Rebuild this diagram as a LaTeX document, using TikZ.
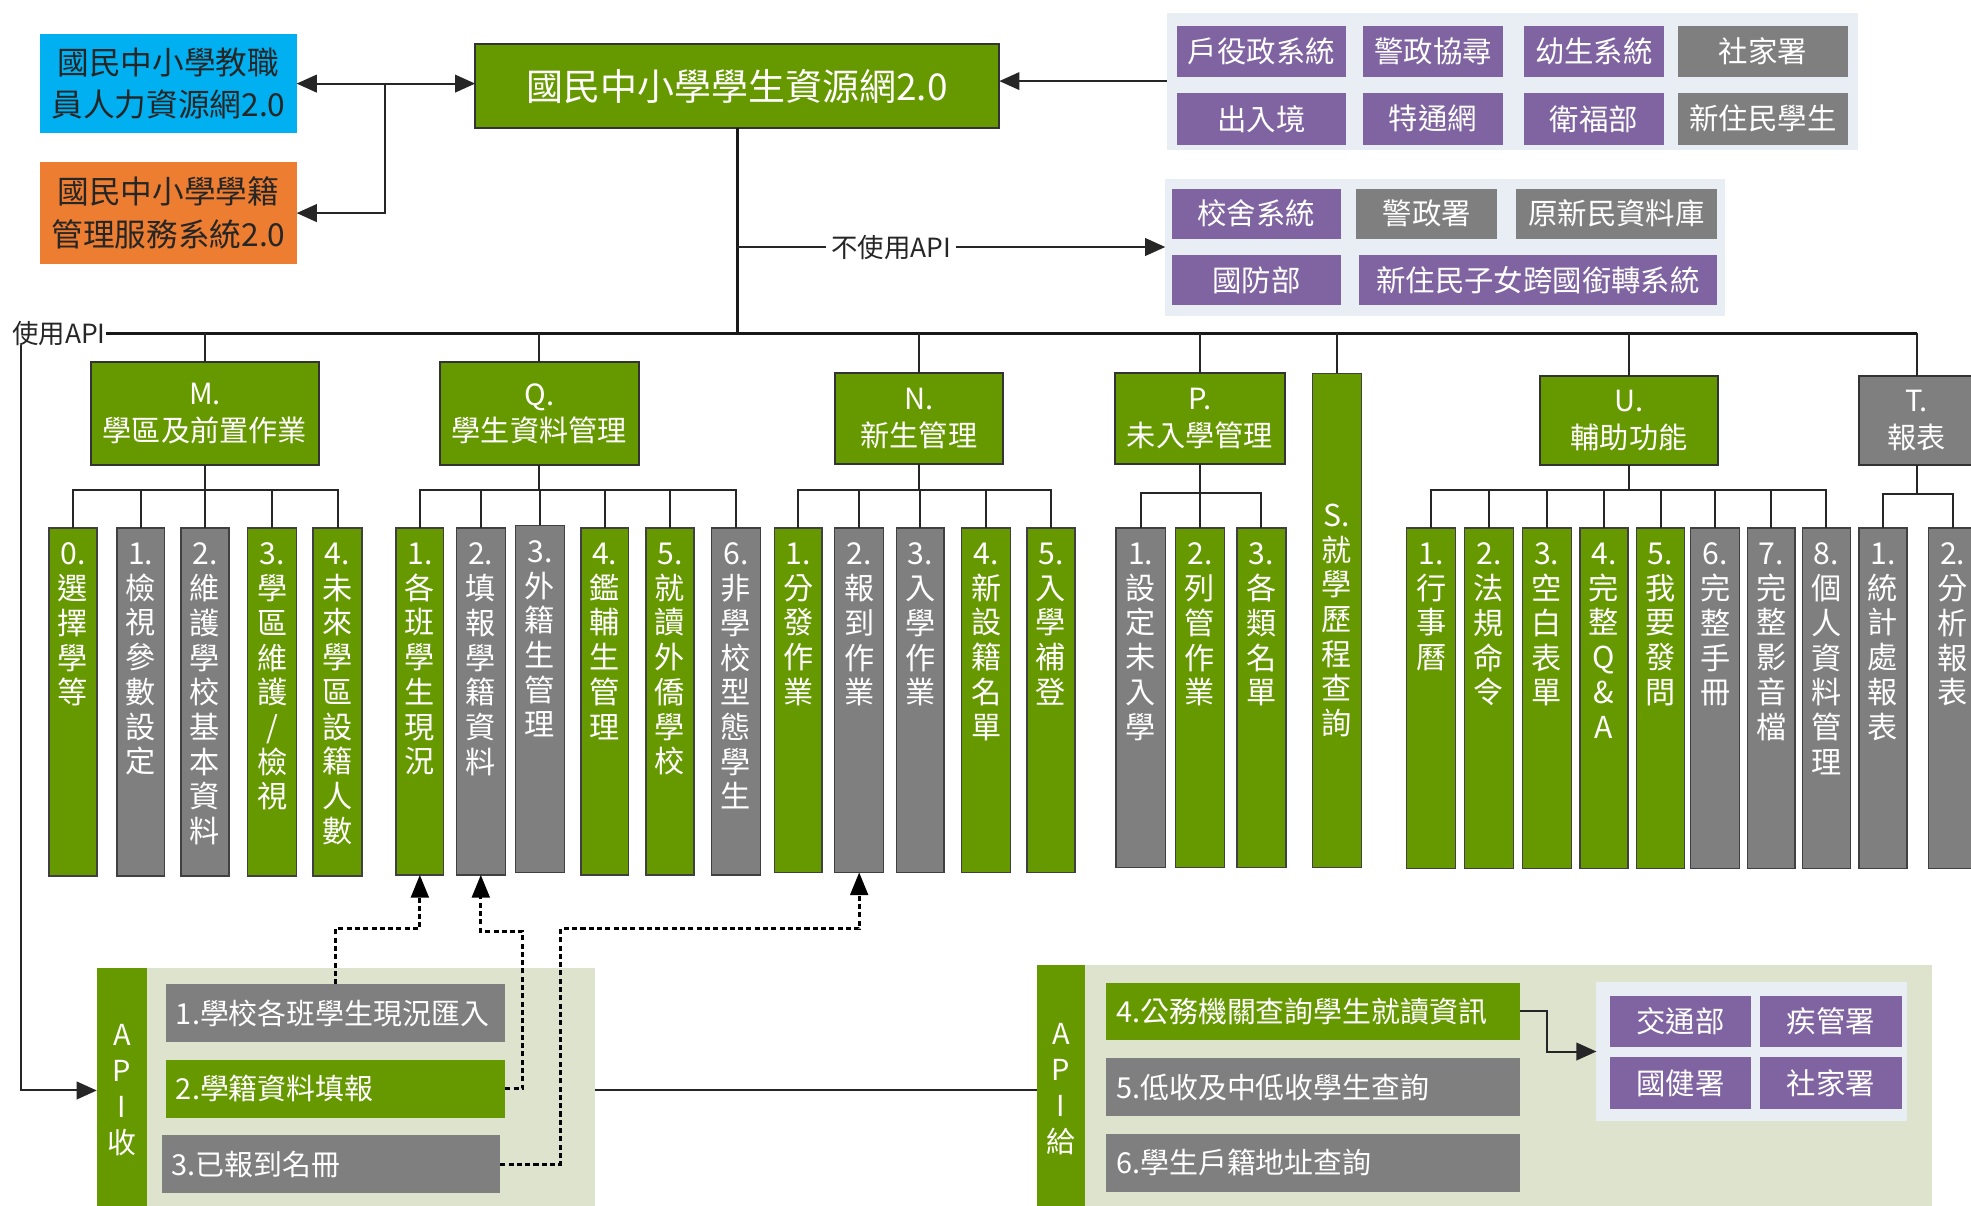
\documentclass[tikz,border=0pt]{standalone}
\usepackage{fontspec}
\setmainfont{Noto Sans CJK TC}
\usetikzlibrary{arrows.meta, calc}

\definecolor{leaf}{HTML}{669900}
\definecolor{ash}{HTML}{7F7F7F}
\definecolor{grape}{HTML}{8064A2}
\definecolor{sky}{HTML}{00B0F0}
\definecolor{amber}{HTML}{ED7D31}
\definecolor{mist}{HTML}{E9EDF4}
\definecolor{sage}{HTML}{DDE3CC}

% stacked characters, starting at the top of a bar
\newcommand{\vcol}[2]{\parbox[c][#1][t]{18pt}{\centering\fontsize{12pt}{13.8pt}\selectfont #2}}

\begin{document}
\begin{tikzpicture}[
  x=0.5pt, y=-0.5pt,
  every node/.style={inner sep=0pt, outer sep=0pt, text=white},
  zone/.style n args={4}{at={({(#1+#3)/2},{(#2+#4)/2})}, minimum width={(#3-#1)*0.5pt}, minimum height={(#4-#2)*0.5pt}},
  head/.style={align=center, draw=black!80, line width=0.8pt, font=\fontsize{11.6pt}{14.5pt}\selectfont},
  ghead/.style={head, fill=leaf},
  yhead/.style={head, fill=ash},
  gbar/.style={fill=leaf, draw=black!75, line width=0.6pt},
  ybar/.style={fill=ash, draw=black!75, line width=0.6pt},
  cell/.style={align=center, font=\fontsize{11.7pt}{14pt}\selectfont},
  pcell/.style={cell, fill=grape},
  ycell/.style={cell, fill=ash},
  panel/.style={fill=mist},
  apibg/.style={fill=sage},
  strip/.style={fill=leaf, align=center, font=\fontsize{11.5pt}{14.3pt}\selectfont},
  api/.style={align=left, font=\fontsize{11.5pt}{14pt}\selectfont},
  gapi/.style={api, fill=leaf},
  yapi/.style={api, fill=ash},
  wire/.style={draw=black!85, line width=0.8pt},
  bus/.style={draw=black!90, line width=1.1pt},
  feed/.style={wire, -{Triangle[length=8pt, width=7pt]}},
  duplex/.style={wire, {Triangle[length=8pt, width=7pt]}-{Triangle[length=8pt, width=7pt]}},
  dots/.style={draw=black, line width=1.2pt, dash pattern=on 2pt off 1.3pt, -{Triangle[length=9pt, width=7pt]}},
  note/.style={text=black!85, font=\fontsize{10.5pt}{12pt}\selectfont}]

  \useasboundingbox (0,0) rectangle (1568,959.4);
  \clip (0,0) rectangle (1568,959.4);

  % top systems
  \node[fill=sky, text=black!85, align=center, font=\fontsize{12.6pt}{17pt}\selectfont, zone={32}{27}{236}{106}] (staff) {國民中小學教職\\員人力資源網2.0};
  \node[fill=amber, text=black!85, align=center, font=\fontsize{12.6pt}{17pt}\selectfont, zone={32}{129}{236}{210}] (roll) {國民中小學學籍\\管理服務系統2.0};
  \node[ghead, font=\fontsize{14.7pt}{17pt}\selectfont, zone={378}{35}{795}{102}] (hub) {國民中小學學生資源網2.0};

  % sources feeding the hub
  \node[panel, zone={928}{10}{1478}{119}] (feedin) {};
  \node[pcell, zone={936}{21}{1071}{61}] (f1) {戶役政系統};
  \node[pcell, zone={1084}{21}{1196}{61}] (f2) {警政協尋};
  \node[pcell, zone={1212}{21}{1324}{61}] (f3) {幼生系統};
  \node[ycell, zone={1335}{21}{1470}{61}] (f4) {社家署};
  \node[pcell, zone={936}{74}{1071}{115}] (f5) {出入境};
  \node[pcell, zone={1084}{74}{1196}{115}] (f6) {特通網};
  \node[pcell, zone={1212}{74}{1324}{115}] (f7) {衛福部};
  \node[ycell, zone={1335}{74}{1470}{115}] (f8) {新住民學生};

  % targets without API
  \node[panel, zone={927}{142}{1372}{251}] (noapi) {};
  \node[pcell, zone={932}{150}{1067}{190}] (g1) {校舍系統};
  \node[ycell, zone={1079}{150}{1191}{190}] (g2) {警政署};
  \node[ycell, zone={1206}{150}{1366}{190}] (g3) {原新民資料庫};
  \node[pcell, zone={932}{203}{1067}{243}] (g4) {國防部};
  \node[pcell, zone={1081}{203}{1366}{243}] (g5) {新住民子女跨國銜轉系統};

  \draw[duplex] (staff.east) -- (staff.east -| hub.west);
  \draw[feed] ($(staff.east)+(70,0)$) |- (roll.east);
  \draw[feed] (feedin.west) -- (feedin.west -| hub.east);

  % modules
  \node[ghead, zone={72}{288}{254}{370}] (M) {M.\\學區及前置作業};
  \node[ghead, zone={350}{288}{508}{370}] (Q) {Q.\\學生資料管理};
  \node[ghead, zone={664}{297}{798}{369}] (N) {N.\\新生管理};
  \node[ghead, zone={887}{297}{1022}{369}] (P) {P.\\未入學管理};
  \node[gbar, align=center, font=\fontsize{12pt}{13.8pt}\selectfont, zone={1044}{297}{1083}{690}] (S) {S.\\就\\學\\歷\\程\\查\\詢};
  \node[ghead, zone={1225}{299}{1367}{370}] (U) {U.\\輔助功能};
  \node[yhead, zone={1479}{299}{1571}{370}] (T) {T.\\報表};

  \node[note] (useapi) at (47,265) {使用API};
  \draw[bus] (useapi.east) -- (useapi.east -| T.north);
  \draw[bus] (hub.south) -- (hub.south |- useapi.east);
  \draw[feed] (hub.south |- noapi.west) -- node[note, fill=white, inner xsep=2pt, pos=0.36] {不使用API} (noapi.west);
  \foreach \g in {M,Q,N,P,S,U,T}
    \draw[wire] (\g.north) -- (\g.north |- useapi.east);

  % M items
  \node[gbar, zone={39}{420}{77}{697}] (m0) {\vcol{126.5pt}{0.\\選\\擇\\學\\等}};
  \node[ybar, zone={93}{420}{131}{697}] (m1) {\vcol{126.5pt}{1.\\檢\\視\\參\\數\\設\\定}};
  \node[ybar, zone={144}{420}{182}{697}] (m2) {\vcol{126.5pt}{2.\\維\\護\\學\\校\\基\\本\\資\\料}};
  \node[gbar, zone={197}{420}{236}{697}] (m3) {\vcol{126.5pt}{3.\\學\\區\\維\\護\\/\\檢\\視}};
  \node[gbar, zone={249}{420}{288}{697}] (m4) {\vcol{126.5pt}{4.\\未\\來\\學\\區\\設\\籍\\人\\數}};

  % Q items
  \node[gbar, zone={315}{420}{353}{696}] (q1) {\vcol{126pt}{1.\\各\\班\\學\\生\\現\\況}};
  \node[ybar, zone={363}{420}{402}{696}] (q2) {\vcol{126pt}{2.\\填\\報\\學\\籍\\資\\料}};
  \node[ybar, zone={410}{418}{449}{694}] (q3) {\vcol{126pt}{3.\\外\\籍\\生\\管\\理}};
  \node[gbar, zone={462}{420}{500}{696}] (q4) {\vcol{126pt}{4.\\鑑\\輔\\生\\管\\理}};
  \node[gbar, zone={514}{420}{552}{696}] (q5) {\vcol{126pt}{5.\\就\\讀\\外\\僑\\學\\校}};
  \node[ybar, zone={566}{420}{605}{696}] (q6) {\vcol{126pt}{6.\\非\\學\\校\\型\\態\\學\\生}};

  % N items
  \node[gbar, zone={616}{420}{654}{694}] (n1) {\vcol{125pt}{1.\\分\\發\\作\\業}};
  \node[ybar, zone={664}{420}{703}{694}] (n2) {\vcol{125pt}{2.\\報\\到\\作\\業}};
  \node[ybar, zone={713}{420}{751}{694}] (n3) {\vcol{125pt}{3.\\入\\學\\作\\業}};
  \node[gbar, zone={765}{420}{804}{694}] (n4) {\vcol{125pt}{4.\\新\\設\\籍\\名\\單}};
  \node[gbar, zone={817}{420}{855}{694}] (n5) {\vcol{125pt}{5.\\入\\學\\補\\登}};

  % P items
  \node[ybar, zone={888}{420}{927}{690}] (p1) {\vcol{123pt}{1.\\設\\定\\未\\入\\學}};
  \node[gbar, zone={935}{420}{974}{690}] (p2) {\vcol{123pt}{2.\\列\\管\\作\\業}};
  \node[gbar, zone={984}{420}{1023}{690}] (p3) {\vcol{123pt}{3.\\各\\類\\名\\單}};

  % U items
  \node[gbar, zone={1119}{420}{1158}{691}] (u1) {\vcol{123.5pt}{1.\\行\\事\\曆}};
  \node[gbar, zone={1165}{420}{1204}{691}] (u2) {\vcol{123.5pt}{2.\\法\\規\\命\\令}};
  \node[gbar, zone={1211}{420}{1250}{691}] (u3) {\vcol{123.5pt}{3.\\空\\白\\表\\單}};
  \node[gbar, zone={1257}{420}{1295}{691}] (u4) {\vcol{123.5pt}{4.\\完\\整\\Q\\\&\\A}};
  \node[gbar, zone={1302}{420}{1340}{691}] (u5) {\vcol{123.5pt}{5.\\我\\要\\發\\問}};
  \node[ybar, zone={1345}{420}{1384}{691}] (u6) {\vcol{123.5pt}{6.\\完\\整\\手\\冊}};
  \node[ybar, zone={1390}{420}{1428}{691}] (u7) {\vcol{123.5pt}{7.\\完\\整\\影\\音\\檔}};
  \node[ybar, zone={1434}{420}{1472}{691}] (u8) {\vcol{123.5pt}{8.\\個\\人\\資\\料\\管\\理}};

  % T items
  \node[ybar, zone={1479}{420}{1517}{691}] (t1) {\vcol{123.5pt}{1.\\統\\計\\處\\報\\表}};
  \node[ybar, zone={1534}{420}{1573}{691}] (t2) {\vcol{123.5pt}{2.\\分\\析\\報\\表}};

  % tree branches
  \draw[wire] (M.south) -- ++(0,20) coordinate (Mj);
  \foreach \c in {m0,m1,m2,m3,m4} \draw[wire] (Mj) -| (\c.north);
  \draw[wire] (Q.south) -- ++(0,20) coordinate (Qj);
  \foreach \c in {q1,q2,q3,q4,q5,q6} \draw[wire] (Qj) -| (\c.north);
  \draw[wire] (N.south) -- ++(0,21) coordinate (Nj);
  \foreach \c in {n1,n2,n3,n4,n5} \draw[wire] (Nj) -| (\c.north);
  \draw[wire] (P.south) -- ++(0,23) coordinate (Pj);
  \foreach \c in {p1,p2,p3} \draw[wire] (Pj) -| (\c.north);
  \draw[wire] (U.south) -- ++(0,20) coordinate (Uj);
  \foreach \c in {u1,u2,u3,u4,u5,u6,u7,u8} \draw[wire] (Uj) -| (\c.north);
  \draw[wire] (T.south) -- ++(0,23) coordinate (Tj);
  \foreach \c in {t1,t2} \draw[wire] (Tj) -| (\c.north);

  % API receive
  \node[apibg, zone={77}{770}{473}{965}] (recv) {};
  \node[strip, zone={77}{770}{117}{965}] (recvstrip) {A\\P\\I\\收};
  \node[yapi, text width=127pt, zone={132}{783}{402}{829}] (api1) {1.學校各班學生現況匯入};
  \node[gapi, text width=127pt, zone={132}{843}{402}{889}] (api2) {2.學籍資料填報};
  \node[yapi, text width=127pt, zone={129}{903}{398}{949}] (api3) {3.已報到名冊};

  % API give
  \node[apibg, zone={825}{768}{1537}{965}] (give) {};
  \node[strip, zone={825}{768}{863}{965}] (givestrip) {A\\P\\I\\給};
  \node[gapi, text width=156.5pt, zone={880}{782}{1209}{827}] (api4) {4.公務機關查詢學生就讀資訊};
  \node[yapi, text width=156.5pt, zone={880}{842}{1209}{888}] (api5) {5.低收及中低收學生查詢};
  \node[yapi, text width=156.5pt, zone={880}{902}{1209}{948}] (api6) {6.學生戶籍地址查詢};
  \node[panel, zone={1270}{781}{1517}{892}] (agency) {};
  \node[pcell, zone={1281}{792}{1393}{833}] (a1) {交通部};
  \node[pcell, zone={1400}{792}{1513}{833}] (a2) {疾管署};
  \node[pcell, zone={1281}{841}{1393}{882}] (a3) {國健署};
  \node[pcell, zone={1400}{841}{1513}{882}] (a4) {社家署};

  \draw[feed] ($(useapi.south)+(-30,0)$) |- (recvstrip.west);
  \draw[wire] (recv.east) -- (recv.east -| givestrip.west);
  \draw[feed] (api4.east) -- ++(22,0) |- (agency.west);

  % data written back by the API
  \draw[dots] (api1.north) -- ++(0,-44) -| (q1.south);
  \draw[dots] (api2.east) -- ++(14,0) -- ++(0,-125) -| (q2.south);
  \draw[dots] (api3.east) -- ++(48,0) -- ++(0,-187) -| (n2.south);

\end{tikzpicture}
\end{document}
